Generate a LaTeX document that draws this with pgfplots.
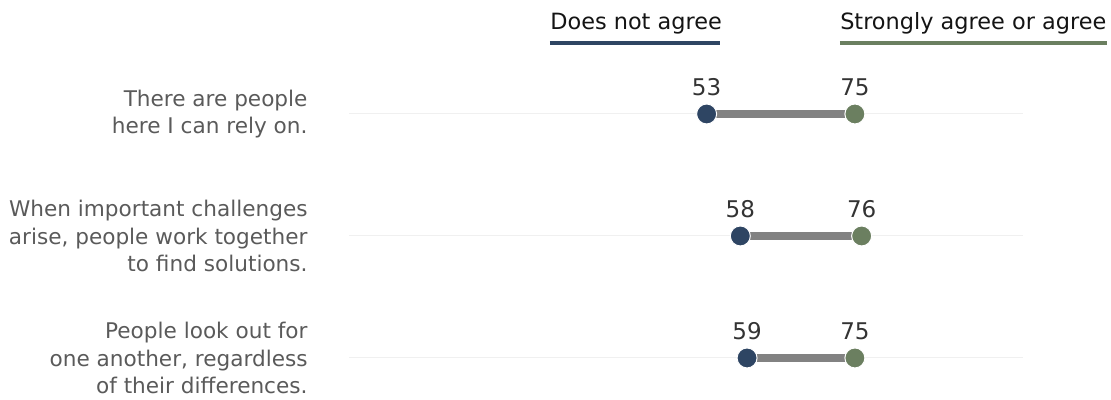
\documentclass[border=0pt]{standalone}
\usepackage{pgfplots}
\pgfplotsset{compat=1.18}
\usepackage{fontspec}
\setmainfont{DejaVu Sans}
\definecolor{navy}{HTML}{2E4563}
\definecolor{sage}{HTML}{6B7F60}
\definecolor{barg}{HTML}{828282}
\definecolor{gridg}{HTML}{F0F0F0}
\definecolor{labg}{HTML}{5A5A5A}
\definecolor{numg}{HTML}{333333}
\begin{document}
\begin{tikzpicture}
\begin{axis}[
  scale only axis, width=337pt, height=200pt,
  xmin=0, xmax=100, ymin=-400, ymax=0,
  axis lines=none, clip=false,
  every node near coord/.append style={font=\fontsize{11.5}{13}\selectfont, text=numg, anchor=south, yshift=5.5pt},
]
% grid lines
\addplot[gridg, line width=0.5pt] coordinates {(0,-114) (100,-114)};
\addplot[gridg, line width=0.5pt] coordinates {(0,-236) (100,-236)};
\addplot[gridg, line width=0.5pt] coordinates {(0,-358) (100,-358)};
% bars
\addplot[barg, line width=4pt] coordinates {(53,-114) (75,-114)};
\addplot[barg, line width=4pt] coordinates {(58,-236) (76,-236)};
\addplot[barg, line width=4pt] coordinates {(59,-358) (75,-358)};
% dots
\addplot[only marks, mark=*, mark size=5pt, mark options={fill=navy, draw=white, line width=0.5pt},
  point meta=explicit symbolic, nodes near coords] coordinates {(53,-114)[53] (58,-236)[58] (59,-358)[59]};
\addplot[only marks, mark=*, mark size=5pt, mark options={fill=sage, draw=white, line width=0.5pt},
  point meta=explicit symbolic, nodes near coords] coordinates {(75,-114)[75] (76,-236)[76] (75,-358)[75]};
% headers
\node[anchor=base west, inner sep=0pt, font=\fontsize{11.2}{13}\selectfont, text=black!92] at (axis cs:29.75,-30) {Does not agree};
\node[anchor=base west, inner sep=0pt, font=\fontsize{11.2}{13}\selectfont, text=black!92] at (axis cs:72.77,-30) {Strongly agree or agree};
\draw[navy, line width=2.4pt] (axis cs:29.75,-43) -- (axis cs:55.0,-43);
\draw[sage, line width=2.4pt] (axis cs:72.77,-43) -- (axis cs:112.4,-43);
% category labels
\node[anchor=east, align=right, inner sep=0pt, text=labg, font=\fontsize{10.8}{13.75}\selectfont] at (axis cs:-6.16,-114) {There are people\\here I can rely on.};
\node[anchor=east, align=right, inner sep=0pt, text=labg, font=\fontsize{10.8}{13.75}\selectfont] at (axis cs:-6.16,-236) {When important challenges\\arise, people work together\\to find solutions.};
\node[anchor=east, align=right, inner sep=0pt, text=labg, font=\fontsize{10.8}{13.75}\selectfont] at (axis cs:-6.16,-358) {People look out for\\one another, regardless\\of their differences.};
\coordinate (bl) at (axis cs:-51.85,-400);
\coordinate (tr) at (axis cs:113.0,0);
\end{axis}
\pgfresetboundingbox
\path[use as bounding box] (bl) rectangle (tr);
\end{tikzpicture}
\end{document}
